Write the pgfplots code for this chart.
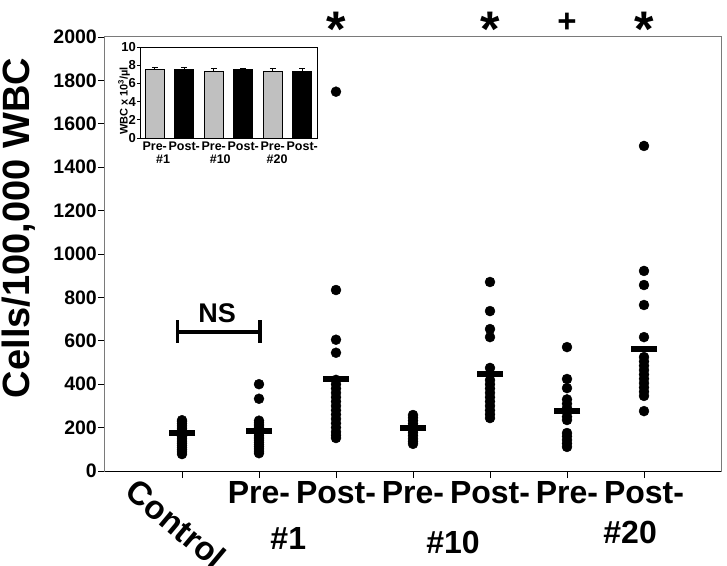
\documentclass[border=0pt]{standalone}
\usepackage{fontspec}
\setmainfont{Liberation Sans}
\usepackage{pgfplots}
\pgfplotsset{compat=1.18}
\definecolor{barGray}{HTML}{C0C0C0}
\definecolor{frameGray}{HTML}{7A7A7A}

\begin{document}
\begin{tikzpicture}
\useasboundingbox (-105pt,-94pt) rectangle (622pt,471pt);
\begin{axis}[
  at={(0,0)}, anchor=south west,
  width=616pt, height=434pt, scale only axis,
  xmin=0, xmax=8, ymin=0, ymax=2000,
  xtick={1,...,7},
  xticklabels={,Pre-,Post-,Pre-,Post-,Pre-,Post-},
  ytick={0,200,...,2000},
  xtick pos=bottom, ytick pos=left,
  tick align=outside, major tick length=7pt,
  tick style={black, line width=0.8pt},
  axis line style={frameGray, line width=1pt},
  clip=false,
  x tick label style={font=\fontsize{32}{34}\selectfont\bfseries, inner sep=1pt, yshift=-2pt},
  y tick label style={font=\fontsize{19.5}{21}\selectfont\bfseries, inner sep=1pt},
  /pgf/number format/assume math mode=true,
  /pgf/number format/1000 sep={},
]
% individual values
\addplot[only marks, mark=*, mark size=5pt, black] coordinates {
  (1,78) (1,88) (1,98) (1,108) (1,118) (1,128) (1,138) (1,148) (1,158)
  (1,168) (1,178) (1,188) (1,198) (1,208) (1,218) (1,228) (1,234)
  (2,400) (2,333) (2,82) (2,92) (2,102) (2,112) (2,122) (2,132) (2,142)
  (2,152) (2,162) (2,172) (2,182) (2,192) (2,202) (2,212) (2,222) (2,232)
  (3,1748) (3,834) (3,605) (3,545) (3,420) (3,400) (3,380) (3,360) (3,340)
  (3,320) (3,300) (3,280) (3,260) (3,240) (3,220) (3,200) (3,180) (3,165) (3,152)
  (4,258) (4,245) (4,232) (4,218) (4,204) (4,190) (4,176) (4,162) (4,148)
  (4,136) (4,125)
  (5,871) (5,737) (5,654) (5,617) (5,475) (5,419) (5,400) (5,380) (5,360)
  (5,340) (5,320) (5,300) (5,280) (5,262) (5,244)
  (6,571) (6,424) (6,382) (6,330) (6,310) (6,290) (6,270) (6,250) (6,235)
  (6,175) (6,160) (6,143) (6,127) (6,111)
  (7,1498) (7,922) (7,857) (7,765) (7,617) (7,525) (7,505) (7,485) (7,465)
  (7,445) (7,425) (7,405) (7,385) (7,365) (7,346) (7,276)
};
% group means
\addplot[only marks, mark=-, mark size=13pt, mark options={line width=6.5pt}, black] coordinates {
  (1,175) (2,184) (3,424) (4,198) (5,447) (6,276) (7,562)
};
\draw[black, line width=1pt] (axis cs:0,0) -- (axis cs:8,0);
% NS bracket
\draw[black, line width=3.5pt] (axis cs:0.94,640) -- (axis cs:2.01,640);
\draw[black, line width=3.5pt] (axis cs:0.94,590) -- (axis cs:0.94,696);
\draw[black, line width=3.5pt] (axis cs:2.01,590) -- (axis cs:2.01,696);
\node[font=\fontsize{27}{27}\selectfont\bfseries] at (axis cs:1.455,728) {NS};
% significance marks
\node[anchor=base, font=\fontsize{50}{50}\selectfont\bfseries] at (axis cs:3,1955) {*};
\node[anchor=base, font=\fontsize{50}{50}\selectfont\bfseries] at (axis cs:5,1955) {*};
\node[anchor=base, font=\fontsize{50}{50}\selectfont\bfseries] at (axis cs:7,1955) {*};
\node[anchor=base, font=\fontsize{33}{33}\selectfont\bfseries] at (axis cs:6,2020) {+};
% group labels
\node[anchor=north west, rotate=-40, inner sep=0pt, font=\fontsize{33}{34}\selectfont\bfseries]
  at (axis cs:0.5,0) [yshift=-7pt] {Control};
\node[font=\fontsize{32}{34}\selectfont\bfseries] at (axis cs:2.38,0) [yshift=-67pt] {\#1};
\node[font=\fontsize{32}{34}\selectfont\bfseries] at (axis cs:4.52,0) [yshift=-71pt] {\#10};
\node[font=\fontsize{32}{34}\selectfont\bfseries] at (axis cs:6.82,0) [yshift=-61pt] {\#20};
\end{axis}
\node[rotate=90, font=\fontsize{38}{38}\selectfont\bfseries] at (-86pt,243pt) {Cells/100,000 WBC};

% inset
\begin{axis}[
  at={(35pt,333pt)}, anchor=south west,
  width=177pt, height=91pt, scale only axis,
  ybar, bar width=19pt, bar shift=0pt,
  xmin=0.5, xmax=6.5, ymin=0, ymax=10,
  ytick={0,2,...,10},
  xtick={1,...,6},
  xticklabels={Pre-,Post-,Pre-,Post-,Pre-,Post-},
  major x tick style={draw=none},
  ytick pos=left, tick align=outside, major tick length=3pt,
  tick style={black, line width=0.6pt},
  axis line style={black, line width=0.7pt},
  clip=false,
  x tick label style={font=\fontsize{12.5}{13}\selectfont\bfseries, inner sep=1pt},
  y tick label style={font=\fontsize{13}{14}\selectfont\bfseries, inner sep=1pt},
  /pgf/number format/assume math mode=true,
  error bars/y dir=plus, error bars/y explicit,
  error bars/error bar style={line width=0.8pt, black},
  error bars/error mark options={rotate=90, mark size=3pt, line width=0.8pt, black},
]
\addplot[fill=barGray, draw=black, line width=0.6pt] coordinates {
  (1,7.5) +- (0,0.3)
  (3,7.3) +- (0,0.3)
  (5,7.3) +- (0,0.3)
};
\addplot[fill=black, draw=black, line width=0.6pt] coordinates {
  (2,7.5) +- (0,0.3)
  (4,7.5) +- (0,0.15)
  (6,7.3) +- (0,0.3)
};
\node[font=\fontsize{12.5}{13}\selectfont\bfseries] at (axis cs:1.28,0) [yshift=-21pt] {\#1};
\node[font=\fontsize{12.5}{13}\selectfont\bfseries] at (axis cs:3.22,0) [yshift=-21pt] {\#10};
\node[font=\fontsize{12.5}{13}\selectfont\bfseries] at (axis cs:5.15,0) [yshift=-21pt] {\#20};
\end{axis}
\node[rotate=90, font=\fontsize{11}{12}\selectfont\bfseries] at (19pt,370pt) {WBC x 10\textsuperscript{3}/µl};
\end{tikzpicture}
\end{document}
